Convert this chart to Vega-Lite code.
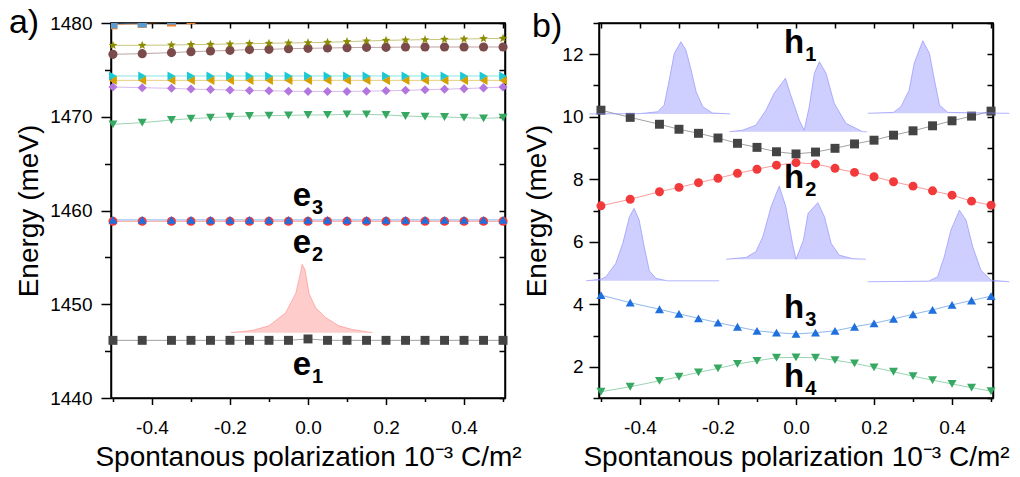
{
  "$schema": "https://vega.github.io/schema/vega-lite/v6.json",
  "background": "white",
  "padding": {"left": 8, "top": 5, "right": 0, "bottom": 0},
  "bounds": "flush",
  "spacing": 94,
  "config": {
    "font": "Liberation Sans",
    "view": {"stroke": "black", "strokeWidth": 1.5},
    "axis": {"domainColor": "black", "domainWidth": 1.5, "tickColor": "black", "tickWidth": 1.5, "labelColor": "black", "labelFontSize": 19, "labelFont": "Liberation Sans", "titleColor": "black", "titleFont": "Liberation Sans", "titleFontSize": 28, "titleFontWeight": "normal", "grid": false, "labelFlush": false, "labelOverlap": false}
  },
  "datasets": {
    "L": [
      {"s":"sq","x":-0.5,"y":1446.15},{"s":"sq","x":-0.425,"y":1446.15},{"s":"sq","x":-0.35,"y":1446.15},{"s":"sq","x":-0.3,"y":1446.15},{"s":"sq","x":-0.25,"y":1446.15},{"s":"sq","x":-0.2,"y":1446.15},{"s":"sq","x":-0.15,"y":1446.15},{"s":"sq","x":-0.1,"y":1446.15},{"s":"sq","x":-0.05,"y":1446.15},{"s":"sq","x":0,"y":1446.3},{"s":"sq","x":0.05,"y":1446.15},{"s":"sq","x":0.1,"y":1446.15},{"s":"sq","x":0.15,"y":1446.15},{"s":"sq","x":0.2,"y":1446.15},{"s":"sq","x":0.25,"y":1446.15},{"s":"sq","x":0.3,"y":1446.15},{"s":"sq","x":0.35,"y":1446.15},{"s":"sq","x":0.4,"y":1446.15},{"s":"sq","x":0.45,"y":1446.15},{"s":"sq","x":0.5,"y":1446.15},
      {"s":"rc","x":-0.5,"y":1458.85},{"s":"rc","x":-0.425,"y":1458.85},{"s":"rc","x":-0.35,"y":1458.85},{"s":"rc","x":-0.3,"y":1458.85},{"s":"rc","x":-0.25,"y":1458.85},{"s":"rc","x":-0.2,"y":1458.85},{"s":"rc","x":-0.15,"y":1458.85},{"s":"rc","x":-0.1,"y":1458.85},{"s":"rc","x":-0.05,"y":1458.85},{"s":"rc","x":0,"y":1458.85},{"s":"rc","x":0.05,"y":1458.85},{"s":"rc","x":0.1,"y":1458.85},{"s":"rc","x":0.15,"y":1458.85},{"s":"rc","x":0.2,"y":1458.85},{"s":"rc","x":0.25,"y":1458.85},{"s":"rc","x":0.3,"y":1458.85},{"s":"rc","x":0.35,"y":1458.85},{"s":"rc","x":0.4,"y":1458.85},{"s":"rc","x":0.45,"y":1458.85},{"s":"rc","x":0.5,"y":1458.85},
      {"s":"bt","x":-0.5,"y":1459.0},{"s":"bt","x":-0.425,"y":1459.0},{"s":"bt","x":-0.35,"y":1459.0},{"s":"bt","x":-0.3,"y":1459.0},{"s":"bt","x":-0.25,"y":1459.0},{"s":"bt","x":-0.2,"y":1459.0},{"s":"bt","x":-0.15,"y":1459.0},{"s":"bt","x":-0.1,"y":1459.0},{"s":"bt","x":-0.05,"y":1459.0},{"s":"bt","x":0,"y":1459.0},{"s":"bt","x":0.05,"y":1459.0},{"s":"bt","x":0.1,"y":1459.0},{"s":"bt","x":0.15,"y":1459.0},{"s":"bt","x":0.2,"y":1459.0},{"s":"bt","x":0.25,"y":1459.0},{"s":"bt","x":0.3,"y":1459.0},{"s":"bt","x":0.35,"y":1459.0},{"s":"bt","x":0.4,"y":1459.0},{"s":"bt","x":0.45,"y":1459.0},{"s":"bt","x":0.5,"y":1459.0},
      {"s":"gt","x":-0.5,"y":1469.19},{"s":"gt","x":-0.425,"y":1469.37},{"s":"gt","x":-0.35,"y":1469.65},{"s":"gt","x":-0.3,"y":1469.8},{"s":"gt","x":-0.25,"y":1469.9},{"s":"gt","x":-0.2,"y":1470.0},{"s":"gt","x":-0.15,"y":1470.08},{"s":"gt","x":-0.1,"y":1470.12},{"s":"gt","x":-0.05,"y":1470.15},{"s":"gt","x":0,"y":1470.19},{"s":"gt","x":0.05,"y":1470.2},{"s":"gt","x":0.1,"y":1470.26},{"s":"gt","x":0.15,"y":1470.26},{"s":"gt","x":0.2,"y":1470.19},{"s":"gt","x":0.25,"y":1470.08},{"s":"gt","x":0.3,"y":1470.01},{"s":"gt","x":0.35,"y":1469.97},{"s":"gt","x":0.4,"y":1469.9},{"s":"gt","x":0.45,"y":1469.83},{"s":"gt","x":0.5,"y":1469.9},
      {"s":"pd","x":-0.5,"y":1473.17},{"s":"pd","x":-0.425,"y":1473.1},{"s":"pd","x":-0.35,"y":1473.03},{"s":"pd","x":-0.3,"y":1472.95},{"s":"pd","x":-0.25,"y":1472.9},{"s":"pd","x":-0.2,"y":1472.85},{"s":"pd","x":-0.15,"y":1472.8},{"s":"pd","x":-0.1,"y":1472.77},{"s":"pd","x":-0.05,"y":1472.73},{"s":"pd","x":0,"y":1472.7},{"s":"pd","x":0.05,"y":1472.7},{"s":"pd","x":0.1,"y":1472.7},{"s":"pd","x":0.15,"y":1472.73},{"s":"pd","x":0.2,"y":1472.77},{"s":"pd","x":0.25,"y":1472.82},{"s":"pd","x":0.3,"y":1472.88},{"s":"pd","x":0.35,"y":1472.94},{"s":"pd","x":0.4,"y":1473.0},{"s":"pd","x":0.45,"y":1473.08},{"s":"pd","x":0.5,"y":1473.17},
      {"s":"ol","x":-0.5,"y":1473.88},{"s":"ol","x":-0.425,"y":1473.88},{"s":"ol","x":-0.35,"y":1473.88},{"s":"ol","x":-0.3,"y":1473.88},{"s":"ol","x":-0.25,"y":1473.88},{"s":"ol","x":-0.2,"y":1473.88},{"s":"ol","x":-0.15,"y":1473.88},{"s":"ol","x":-0.1,"y":1473.88},{"s":"ol","x":-0.05,"y":1473.88},{"s":"ol","x":0,"y":1473.88},{"s":"ol","x":0.05,"y":1473.88},{"s":"ol","x":0.1,"y":1473.88},{"s":"ol","x":0.15,"y":1473.88},{"s":"ol","x":0.2,"y":1473.88},{"s":"ol","x":0.25,"y":1473.88},{"s":"ol","x":0.3,"y":1473.88},{"s":"ol","x":0.35,"y":1473.88},{"s":"ol","x":0.4,"y":1473.88},{"s":"ol","x":0.45,"y":1473.88},{"s":"ol","x":0.5,"y":1473.88},
      {"s":"cr","x":-0.5,"y":1474.35},{"s":"cr","x":-0.425,"y":1474.35},{"s":"cr","x":-0.35,"y":1474.35},{"s":"cr","x":-0.3,"y":1474.35},{"s":"cr","x":-0.25,"y":1474.35},{"s":"cr","x":-0.2,"y":1474.35},{"s":"cr","x":-0.15,"y":1474.35},{"s":"cr","x":-0.1,"y":1474.35},{"s":"cr","x":-0.05,"y":1474.35},{"s":"cr","x":0,"y":1474.35},{"s":"cr","x":0.05,"y":1474.35},{"s":"cr","x":0.1,"y":1474.35},{"s":"cr","x":0.15,"y":1474.35},{"s":"cr","x":0.2,"y":1474.35},{"s":"cr","x":0.25,"y":1474.35},{"s":"cr","x":0.3,"y":1474.35},{"s":"cr","x":0.35,"y":1474.35},{"s":"cr","x":0.4,"y":1474.35},{"s":"cr","x":0.45,"y":1474.35},{"s":"cr","x":0.5,"y":1474.35},
      {"s":"bc","x":-0.5,"y":1476.66},{"s":"bc","x":-0.425,"y":1476.73},{"s":"bc","x":-0.35,"y":1476.84},{"s":"bc","x":-0.3,"y":1476.94},{"s":"bc","x":-0.25,"y":1477.01},{"s":"bc","x":-0.2,"y":1477.08},{"s":"bc","x":-0.15,"y":1477.16},{"s":"bc","x":-0.1,"y":1477.19},{"s":"bc","x":-0.05,"y":1477.26},{"s":"bc","x":0,"y":1477.3},{"s":"bc","x":0.05,"y":1477.33},{"s":"bc","x":0.1,"y":1477.37},{"s":"bc","x":0.15,"y":1477.4},{"s":"bc","x":0.2,"y":1477.4},{"s":"bc","x":0.25,"y":1477.44},{"s":"bc","x":0.3,"y":1477.44},{"s":"bc","x":0.35,"y":1477.44},{"s":"bc","x":0.4,"y":1477.44},{"s":"bc","x":0.45,"y":1477.44},{"s":"bc","x":0.5,"y":1477.44},
      {"s":"st","x":-0.5,"y":1477.62},{"s":"st","x":-0.425,"y":1477.62},{"s":"st","x":-0.35,"y":1477.65},{"s":"st","x":-0.3,"y":1477.69},{"s":"st","x":-0.25,"y":1477.72},{"s":"st","x":-0.2,"y":1477.76},{"s":"st","x":-0.15,"y":1477.8},{"s":"st","x":-0.1,"y":1477.83},{"s":"st","x":-0.05,"y":1477.87},{"s":"st","x":0,"y":1477.9},{"s":"st","x":0.05,"y":1477.94},{"s":"st","x":0.1,"y":1478.01},{"s":"st","x":0.15,"y":1478.08},{"s":"st","x":0.2,"y":1478.15},{"s":"st","x":0.25,"y":1478.19},{"s":"st","x":0.3,"y":1478.22},{"s":"st","x":0.35,"y":1478.26},{"s":"st","x":0.4,"y":1478.29},{"s":"st","x":0.45,"y":1478.33},{"s":"st","x":0.5,"y":1478.36}
    ],
    "LT": [
      {"s":"os","x":-0.5,"y":1479.8},{"s":"os","x":-0.425,"y":1479.95},{"s":"os","x":-0.35,"y":1480.1},{"s":"os","x":-0.3,"y":1480.35},{"s":"os","x":-0.25,"y":1480.6},
      {"s":"bs","x":-0.5,"y":1479.9},{"s":"bs","x":-0.425,"y":1480.0},{"s":"bs","x":-0.35,"y":1480.3},{"s":"bs","x":-0.3,"y":1480.6}
    ],
    "R": [
      {"s":"sq","x":-0.5,"y":10.21},{"s":"sq","x":-0.425,"y":9.98},{"s":"sq","x":-0.35,"y":9.76},{"s":"sq","x":-0.3,"y":9.6},{"s":"sq","x":-0.25,"y":9.47},{"s":"sq","x":-0.2,"y":9.32},{"s":"sq","x":-0.15,"y":9.15},{"s":"sq","x":-0.1,"y":9.02},{"s":"sq","x":-0.05,"y":8.88},{"s":"sq","x":0,"y":8.81},{"s":"sq","x":0.05,"y":8.87},{"s":"sq","x":0.1,"y":8.99},{"s":"sq","x":0.15,"y":9.13},{"s":"sq","x":0.2,"y":9.25},{"s":"sq","x":0.25,"y":9.41},{"s":"sq","x":0.3,"y":9.55},{"s":"sq","x":0.35,"y":9.71},{"s":"sq","x":0.4,"y":9.87},{"s":"sq","x":0.45,"y":10.02},{"s":"sq","x":0.5,"y":10.18},
      {"s":"rc","x":-0.5,"y":7.15},{"s":"rc","x":-0.425,"y":7.36},{"s":"rc","x":-0.35,"y":7.6},{"s":"rc","x":-0.3,"y":7.74},{"s":"rc","x":-0.25,"y":7.89},{"s":"rc","x":-0.2,"y":8.03},{"s":"rc","x":-0.15,"y":8.19},{"s":"rc","x":-0.1,"y":8.32},{"s":"rc","x":-0.05,"y":8.45},{"s":"rc","x":0,"y":8.53},{"s":"rc","x":0.05,"y":8.49},{"s":"rc","x":0.1,"y":8.35},{"s":"rc","x":0.15,"y":8.22},{"s":"rc","x":0.2,"y":8.08},{"s":"rc","x":0.25,"y":7.92},{"s":"rc","x":0.3,"y":7.78},{"s":"rc","x":0.35,"y":7.63},{"s":"rc","x":0.4,"y":7.49},{"s":"rc","x":0.45,"y":7.3},{"s":"rc","x":0.5,"y":7.17},
      {"s":"bt","x":-0.5,"y":4.29},{"s":"bt","x":-0.425,"y":4.05},{"s":"bt","x":-0.35,"y":3.84},{"s":"bt","x":-0.3,"y":3.69},{"s":"bt","x":-0.25,"y":3.55},{"s":"bt","x":-0.2,"y":3.41},{"s":"bt","x":-0.15,"y":3.28},{"s":"bt","x":-0.1,"y":3.15},{"s":"bt","x":-0.05,"y":3.09},{"s":"bt","x":0,"y":3.05},{"s":"bt","x":0.05,"y":3.09},{"s":"bt","x":0.1,"y":3.15},{"s":"bt","x":0.15,"y":3.28},{"s":"bt","x":0.2,"y":3.39},{"s":"bt","x":0.25,"y":3.53},{"s":"bt","x":0.3,"y":3.68},{"s":"bt","x":0.35,"y":3.82},{"s":"bt","x":0.4,"y":3.98},{"s":"bt","x":0.45,"y":4.12},{"s":"bt","x":0.5,"y":4.26},
      {"s":"gt","x":-0.5,"y":1.2},{"s":"gt","x":-0.425,"y":1.36},{"s":"gt","x":-0.35,"y":1.55},{"s":"gt","x":-0.3,"y":1.68},{"s":"gt","x":-0.25,"y":1.82},{"s":"gt","x":-0.2,"y":1.95},{"s":"gt","x":-0.15,"y":2.09},{"s":"gt","x":-0.1,"y":2.19},{"s":"gt","x":-0.05,"y":2.29},{"s":"gt","x":0,"y":2.3},{"s":"gt","x":0.05,"y":2.29},{"s":"gt","x":0.1,"y":2.21},{"s":"gt","x":0.15,"y":2.11},{"s":"gt","x":0.2,"y":1.98},{"s":"gt","x":0.25,"y":1.84},{"s":"gt","x":0.3,"y":1.7},{"s":"gt","x":0.35,"y":1.57},{"s":"gt","x":0.4,"y":1.45},{"s":"gt","x":0.45,"y":1.33},{"s":"gt","x":0.5,"y":1.22}
    ],
    "WL": [
      {"w":"r","x":-0.198,"y":1446.97,"b":1446.97},{"w":"r","x":-0.143,"y":1447.2,"b":1446.97},{"w":"r","x":-0.1,"y":1447.7,"b":1446.97},{"w":"r","x":-0.057,"y":1449.1,"b":1446.97},{"w":"r","x":-0.031,"y":1451.2,"b":1446.97},{"w":"r","x":-0.019,"y":1453.4,"b":1446.97},{"w":"r","x":-0.015,"y":1454.26,"b":1446.97},{"w":"r","x":-0.008,"y":1453.7,"b":1446.97},{"w":"r","x":0.003,"y":1451.1,"b":1446.97},{"w":"r","x":0.02,"y":1449.6,"b":1446.97},{"w":"r","x":0.045,"y":1448.6,"b":1446.97},{"w":"r","x":0.079,"y":1447.7,"b":1446.97},{"w":"r","x":0.114,"y":1447.3,"b":1446.97},{"w":"r","x":0.165,"y":1446.97,"b":1446.97}
    ],
    "WR": [
      {"w":"b1","x":-0.53,"y":10.09,"b":10.09},{"w":"b1","x":-0.4,"y":10.1,"b":10.09},{"w":"b1","x":-0.355,"y":10.16,"b":10.09},{"w":"b1","x":-0.338,"y":10.37,"b":10.09},{"w":"b1","x":-0.325,"y":11.17,"b":10.09},{"w":"b1","x":-0.312,"y":12.03,"b":10.09},{"w":"b1","x":-0.295,"y":12.4,"b":10.09},{"w":"b1","x":-0.282,"y":12.13,"b":10.09},{"w":"b1","x":-0.269,"y":11.5,"b":10.09},{"w":"b1","x":-0.256,"y":10.8,"b":10.09},{"w":"b1","x":-0.239,"y":10.32,"b":10.09},{"w":"b1","x":-0.214,"y":10.12,"b":10.09},{"w":"b1","x":-0.169,"y":10.09,"b":10.09},
      {"w":"b2","x":-0.171,"y":9.52,"b":9.52},{"w":"b2","x":-0.137,"y":9.57,"b":9.52},{"w":"b2","x":-0.103,"y":9.73,"b":9.52},{"w":"b2","x":-0.077,"y":10.21,"b":9.52},{"w":"b2","x":-0.056,"y":10.75,"b":9.52},{"w":"b2","x":-0.027,"y":11.23,"b":9.52},{"w":"b2","x":-0.015,"y":10.75,"b":9.52},{"w":"b2","x":0.0085,"y":9.89,"b":9.52},{"w":"b2","x":0.021,"y":9.57,"b":9.52},{"w":"b2","x":0.034,"y":10.32,"b":9.52},{"w":"b2","x":0.047,"y":11.39,"b":9.52},{"w":"b2","x":0.06,"y":11.76,"b":9.52},{"w":"b2","x":0.077,"y":11.39,"b":9.52},{"w":"b2","x":0.098,"y":10.43,"b":9.52},{"w":"b2","x":0.128,"y":9.79,"b":9.52},{"w":"b2","x":0.171,"y":9.52,"b":9.52},{"w":"b2","x":0.182,"y":9.52,"b":9.52},
      {"w":"b3","x":0.184,"y":10.11,"b":10.11},{"w":"b3","x":0.25,"y":10.14,"b":10.11},{"w":"b3","x":0.269,"y":10.32,"b":10.11},{"w":"b3","x":0.29,"y":10.85,"b":10.11},{"w":"b3","x":0.303,"y":11.71,"b":10.11},{"w":"b3","x":0.325,"y":12.43,"b":10.11},{"w":"b3","x":0.342,"y":12.03,"b":10.11},{"w":"b3","x":0.355,"y":11.17,"b":10.11},{"w":"b3","x":0.368,"y":10.37,"b":10.11},{"w":"b3","x":0.389,"y":10.14,"b":10.11},{"w":"b3","x":0.547,"y":10.11,"b":10.11},
      {"w":"b4","x":-0.538,"y":4.75,"b":4.75},{"w":"b4","x":-0.5,"y":4.8,"b":4.75},{"w":"b4","x":-0.487,"y":4.88,"b":4.75},{"w":"b4","x":-0.462,"y":5.31,"b":4.75},{"w":"b4","x":-0.444,"y":5.95,"b":4.75},{"w":"b4","x":-0.427,"y":6.8,"b":4.75},{"w":"b4","x":-0.415,"y":7.07,"b":4.75},{"w":"b4","x":-0.402,"y":6.69,"b":4.75},{"w":"b4","x":-0.389,"y":5.84,"b":4.75},{"w":"b4","x":-0.376,"y":5.07,"b":4.75},{"w":"b4","x":-0.359,"y":4.83,"b":4.75},{"w":"b4","x":-0.33,"y":4.75,"b":4.75},{"w":"b4","x":-0.197,"y":4.75,"b":4.75},
      {"w":"b5","x":-0.179,"y":5.44,"b":5.44},{"w":"b5","x":-0.128,"y":5.5,"b":5.44},{"w":"b5","x":-0.103,"y":5.68,"b":5.44},{"w":"b5","x":-0.085,"y":6.16,"b":5.44},{"w":"b5","x":-0.064,"y":7.12,"b":5.44},{"w":"b5","x":-0.043,"y":7.78,"b":5.44},{"w":"b5","x":-0.026,"y":7.12,"b":5.44},{"w":"b5","x":-0.009,"y":5.95,"b":5.44},{"w":"b5","x":0.0,"y":5.44,"b":5.44},{"w":"b5","x":0.019,"y":6.05,"b":5.44},{"w":"b5","x":0.031,"y":6.91,"b":5.44},{"w":"b5","x":0.056,"y":7.25,"b":5.44},{"w":"b5","x":0.073,"y":6.8,"b":5.44},{"w":"b5","x":0.09,"y":5.95,"b":5.44},{"w":"b5","x":0.111,"y":5.57,"b":5.44},{"w":"b5","x":0.145,"y":5.46,"b":5.44},{"w":"b5","x":0.179,"y":5.44,"b":5.44},
      {"w":"b6","x":0.184,"y":4.72,"b":4.72},{"w":"b6","x":0.34,"y":4.74,"b":4.72},{"w":"b6","x":0.363,"y":4.88,"b":4.72},{"w":"b6","x":0.38,"y":5.52,"b":4.72},{"w":"b6","x":0.397,"y":6.37,"b":4.72},{"w":"b6","x":0.419,"y":7.01,"b":4.72},{"w":"b6","x":0.436,"y":6.69,"b":4.72},{"w":"b6","x":0.453,"y":5.84,"b":4.72},{"w":"b6","x":0.474,"y":5.09,"b":4.72},{"w":"b6","x":0.5,"y":4.77,"b":4.72},{"w":"b6","x":0.547,"y":4.72,"b":4.72}
    ],
    "TL": [
      {"m":"e","n":"3","x":0.008,"y":1460.48},{"m":"e","n":"2","x":0.008,"y":1455.5},{"m":"e","n":"1","x":0.008,"y":1442.45}
    ],
    "TR": [
      {"m":"h","n":"1","x":0.021,"y":12.03},{"m":"h","n":"2","x":0.021,"y":7.71},{"m":"h","n":"3","x":0.021,"y":3.55},{"m":"h","n":"4","x":0.021,"y":1.36}
    ],
    "PL": [{"t":"a)","x":-0.728,"y":1480}],
    "PR": [{"t":"b)","x":-0.638,"y":12.87}]
  },
  "hconcat": [
    {
      "width": 394,
      "height": 375,
      "resolve": {"axis": {"x": "independent", "y": "independent"}},
      "layer": [
        {
          "data": {"name": "L"},
          "encoding": {
            "x": {"field": "x", "type": "quantitative", "scale": {"domain": [-0.505, 0.505], "nice": false, "zero": false},
              "axis": {"orient": "bottom", "values": [-0.5,-0.4,-0.3,-0.2,-0.1,0,0.1,0.2,0.3,0.4,0.5], "tickSize": {"condition": {"test": "abs(round(datum.value*10))%2==1", "value": 3.5}, "value": 6.5}, "labelExpr": "abs(round(datum.value*10))%2==1 ? '' : replace(format(datum.value,'.1f'),'\u2212','-')", "labelPadding": 14, "title": "Spontanous polarization 10⁻³ C/m²", "titlePadding": 6}},
            "y": {"field": "y", "type": "quantitative", "scale": {"domain": [1440, 1480], "nice": false, "zero": false},
              "axis": {"orient": "left", "values": [1440,1445,1450,1455,1460,1465,1470,1475,1480], "format": "d", "tickSize": {"condition": {"test": "datum.value%10!=0", "value": 6.5}, "value": 10}, "labelExpr": "datum.value%10!=0 ? '' : datum.label", "labelPadding": 9, "title": "Energy (meV)", "titlePadding": 6}},
            "color": {"field": "s", "type": "nominal", "legend": null,
              "scale": {"domain": ["sq","rc","bt","gt","pd","ol","cr","bc","st","os","bs"], "range": ["#444444","#f23a3a","#1f6fdc","#36a862","#b276de","#d69e00","#1cc8d2","#7b4a4a","#8c8c00","#f5822a","#5b9bd5"]}}
          },
          "layer": [
            {"mark": {"type": "line", "strokeWidth": 1, "opacity": 0.5}},
            {"mark": {"type": "point", "filled": true, "opacity": 1},
              "encoding": {
                "shape": {"field": "s", "type": "nominal", "legend": null,
                  "scale": {"domain": ["sq","rc","bt","gt","pd","ol","cr","bc","st","os","bs"], "range": ["square","circle","triangle-up","triangle-down","diamond","triangle-left","triangle-right","circle","M0,-1L0.247,-0.34L0.951,-0.309L0.399,0.13L0.588,0.809L0,0.42L-0.588,0.809L-0.399,0.13L-0.951,-0.309L-0.247,-0.34Z","square","square"]}},
                "size": {"field": "s", "type": "nominal", "legend": null,
                  "scale": {"domain": ["sq","rc","bt","gt","pd","ol","cr","bc","st","os","bs"], "range": [80,85,90,90,95,90,90,90,120,80,80]}}}}
          ]
        },
        {
          "data": {"name": "LT"},
          "encoding": {
            "x": {"field": "x", "type": "quantitative", "scale": {"domain": [-0.505, 0.505]}, "axis": null},
            "y": {"field": "y", "type": "quantitative", "scale": {"domain": [1440, 1480]}, "axis": null},
            "color": {"field": "s", "type": "nominal", "legend": null}
          },
          "layer": [
            {"mark": {"type": "line", "strokeWidth": 1, "opacity": 0.5, "clip": true}},
            {"mark": {"type": "point", "filled": true, "opacity": 1, "size": 80, "shape": "square", "clip": true}}
          ]
        },
        {
          "data": {"name": "WL"},
          "mark": {"type": "area", "color": "#ff7a7a", "opacity": 0.38, "line": {"color": "#ff8c8c", "strokeWidth": 0.8, "opacity": 0.8}},
          "encoding": {
            "x": {"field": "x", "type": "quantitative", "scale": {"domain": [-0.505, 0.505]}, "axis": null},
            "y": {"field": "y", "type": "quantitative", "scale": {"domain": [1440, 1480]}, "axis": null},
            "y2": {"field": "b"},
            "detail": {"field": "w"}
          }
        },
        {
          "data": {"name": "TL"},
          "encoding": {
            "x": {"field": "x", "type": "quantitative", "scale": {"domain": [-0.505, 0.505]}, "axis": null},
            "y": {"field": "y", "type": "quantitative", "scale": {"domain": [1440, 1480]}, "axis": null}
          },
          "layer": [
            {"mark": {"type": "text", "align": "right", "baseline": "alphabetic", "fontSize": 33, "fontWeight": "bold", "color": "black"}, "encoding": {"text": {"field": "m"}}},
            {"mark": {"type": "text", "align": "left", "baseline": "alphabetic", "dx": 1, "dy": 8, "fontSize": 20, "fontWeight": "bold", "color": "black"}, "encoding": {"text": {"field": "n"}}}
          ]
        },
        {
          "data": {"name": "PL"},
          "mark": {"type": "text", "align": "center", "baseline": "middle", "fontSize": 34, "color": "black"},
          "encoding": {
            "x": {"field": "x", "type": "quantitative", "scale": {"domain": [-0.505, 0.505]}, "axis": null},
            "y": {"field": "y", "type": "quantitative", "scale": {"domain": [1440, 1480]}, "axis": null},
            "text": {"field": "t"}
          }
        },
        {
          "data": {"name": "L"},
          "mark": {"type": "point", "opacity": 0},
          "encoding": {
            "x": {"field": "x", "type": "quantitative", "scale": {"domain": [-0.505, 0.505]},
              "axis": {"orient": "top", "values": [-0.5,-0.4,-0.3,-0.2,-0.1,0,0.1,0.2,0.3,0.4,0.5], "labels": false, "title": null, "tickSize": -5}},
            "y": {"field": "y", "type": "quantitative", "scale": {"domain": [1440, 1480]},
              "axis": {"orient": "right", "values": [1440,1445,1450,1455,1460,1465,1470,1475,1480], "labels": false, "title": null, "tickSize": -6}}
          }
        }
      ]
    },
    {
      "width": 394,
      "height": 375,
      "resolve": {"axis": {"x": "independent", "y": "independent"}},
      "layer": [
        {
          "data": {"name": "R"},
          "encoding": {
            "x": {"field": "x", "type": "quantitative", "scale": {"domain": [-0.505, 0.505], "nice": false, "zero": false},
              "axis": {"orient": "bottom", "values": [-0.5,-0.4,-0.3,-0.2,-0.1,0,0.1,0.2,0.3,0.4,0.5], "tickSize": {"condition": {"test": "abs(round(datum.value*10))%2==1", "value": 3.5}, "value": 6.5}, "labelExpr": "abs(round(datum.value*10))%2==1 ? '' : replace(format(datum.value,'.1f'),'\u2212','-')", "labelPadding": 14, "title": "Spontanous polarization 10⁻³ C/m²", "titlePadding": 6}},
            "y": {"field": "y", "type": "quantitative", "scale": {"domain": [1, 13], "nice": false, "zero": false},
              "axis": {"orient": "left", "values": [1,2,3,4,5,6,7,8,9,10,11,12,13], "format": "d", "tickSize": {"condition": {"test": "datum.value%2==1", "value": 6}, "value": 10}, "labelExpr": "datum.value%2==1 ? '' : datum.label", "labelPadding": 6, "title": "Energy (meV)", "titlePadding": 10}},
            "color": {"field": "s", "type": "nominal", "legend": null,
              "scale": {"domain": ["sq","rc","bt","gt","pd","ol","cr","bc","st","os","bs"], "range": ["#444444","#f23a3a","#1f6fdc","#36a862","#b276de","#d69e00","#1cc8d2","#7b4a4a","#8c8c00","#f5822a","#5b9bd5"]}}
          },
          "layer": [
            {"mark": {"type": "line", "strokeWidth": 1, "opacity": 0.5}},
            {"mark": {"type": "point", "filled": true, "opacity": 1},
              "encoding": {
                "shape": {"field": "s", "type": "nominal", "legend": null,
                  "scale": {"domain": ["sq","rc","bt","gt","pd","ol","cr","bc","st","os","bs"], "range": ["square","circle","triangle-up","triangle-down","diamond","triangle-left","triangle-right","circle","M0,-1L0.247,-0.34L0.951,-0.309L0.399,0.13L0.588,0.809L0,0.42L-0.588,0.809L-0.399,0.13L-0.951,-0.309L-0.247,-0.34Z","square","square"]}},
                "size": {"field": "s", "type": "nominal", "legend": null,
                  "scale": {"domain": ["sq","rc","bt","gt","pd","ol","cr","bc","st","os","bs"], "range": [80,85,90,90,95,90,90,90,120,80,80]}}}}
          ]
        },
        {
          "data": {"name": "WR"},
          "mark": {"type": "area", "color": "#8080ff", "opacity": 0.38, "line": {"color": "#8a8aff", "strokeWidth": 0.8, "opacity": 0.8}},
          "encoding": {
            "x": {"field": "x", "type": "quantitative", "scale": {"domain": [-0.505, 0.505]}, "axis": null},
            "y": {"field": "y", "type": "quantitative", "scale": {"domain": [1, 13]}, "axis": null},
            "y2": {"field": "b"},
            "detail": {"field": "w"}
          }
        },
        {
          "data": {"name": "TR"},
          "encoding": {
            "x": {"field": "x", "type": "quantitative", "scale": {"domain": [-0.505, 0.505]}, "axis": null},
            "y": {"field": "y", "type": "quantitative", "scale": {"domain": [1, 13]}, "axis": null}
          },
          "layer": [
            {"mark": {"type": "text", "align": "right", "baseline": "alphabetic", "fontSize": 33, "fontWeight": "bold", "color": "black"}, "encoding": {"text": {"field": "m"}}},
            {"mark": {"type": "text", "align": "left", "baseline": "alphabetic", "dx": 1, "dy": 8, "fontSize": 20, "fontWeight": "bold", "color": "black"}, "encoding": {"text": {"field": "n"}}}
          ]
        },
        {
          "data": {"name": "PR"},
          "mark": {"type": "text", "align": "center", "baseline": "middle", "fontSize": 34, "color": "black"},
          "encoding": {
            "x": {"field": "x", "type": "quantitative", "scale": {"domain": [-0.505, 0.505]}, "axis": null},
            "y": {"field": "y", "type": "quantitative", "scale": {"domain": [1, 13]}, "axis": null},
            "text": {"field": "t"}
          }
        },
        {
          "data": {"name": "R"},
          "mark": {"type": "point", "opacity": 0},
          "encoding": {
            "x": {"field": "x", "type": "quantitative", "scale": {"domain": [-0.505, 0.505]},
              "axis": {"orient": "top", "values": [-0.5,-0.4,-0.3,-0.2,-0.1,0,0.1,0.2,0.3,0.4,0.5], "labels": false, "title": null, "tickSize": -5}},
            "y": {"field": "y", "type": "quantitative", "scale": {"domain": [1, 13]},
              "axis": {"orient": "right", "values": [1,2,3,4,5,6,7,8,9,10,11,12,13], "labels": false, "title": null, "tickSize": -6}}
          }
        }
      ]
    }
  ]
}
